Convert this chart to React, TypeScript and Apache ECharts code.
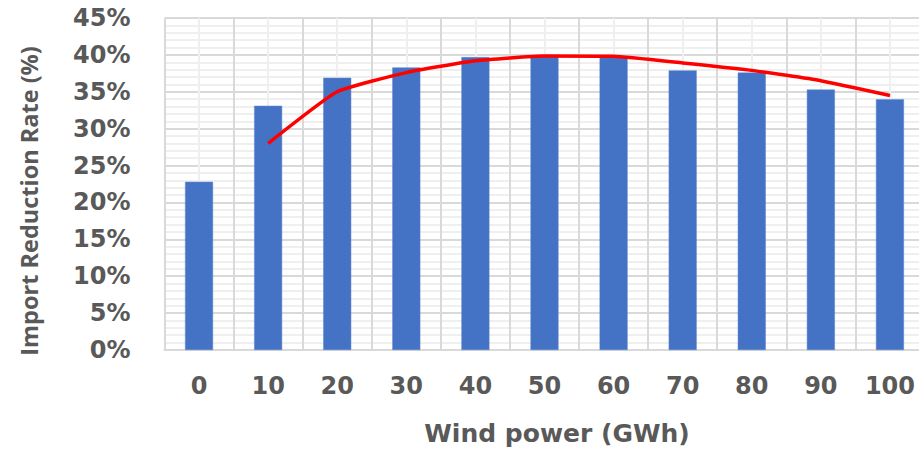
import React, { useEffect, useRef } from "react";
import * as echarts from "echarts";

const categories = ["0", "10", "20", "30", "40", "50", "60", "70", "80", "90", "100"];
const barValues = [22.8, 33.1, 36.9, 38.3, 39.7, 39.8, 39.8, 37.9, 37.6, 35.3, 34.0];
const lineValues = [null, 28.0, 35.0, 37.6, 39.2, 39.85, 39.8, 38.9, 37.9, 36.5, 34.5];
const yTitle = "Import Reduction Rate (%)";
const xTitle = "Wind power (GWh)";

const TEXT = "#595959";

export default function App() {
  const ref = useRef<HTMLDivElement>(null);
  useEffect(() => {
    if (!ref.current) return;
    const chart = echarts.init(ref.current, undefined, { renderer: "svg" });
    chart.setOption({
      animation: false,
      grid: { left: 164.5, top: 18, bottom: 100, width: 760, containLabel: false, outerBoundsMode: "none" },
      xAxis: [
        {
          type: "category",
          data: categories,
          z: 1,
          axisLine: { show: true, lineStyle: { color: "#D9D9D9", width: 2 } },
          axisTick: { show: false },
          axisLabel: {
            color: TEXT,
            fontFamily: "DejaVu Sans",
            fontWeight: "bold",
            fontSize: 24,
            margin: 24,
          },
          splitLine: { show: true, lineStyle: { color: "#D9D9D9", width: 2 } },
        },
        {
          type: "value",
          min: 0,
          max: 22,
          interval: 1,
          show: true,
          z: 0,
          axisLine: { show: false },
          axisTick: { show: false },
          axisLabel: { show: false },
          splitLine: { show: true, lineStyle: { color: "#EFEFEF", width: 2 } },
        },
      ],
      yAxis: {
        type: "value",
        min: 0,
        max: 45,
        interval: 5,
        axisLine: { show: false },
        axisTick: { show: false },
        axisLabel: {
          formatter: "{value}%",
          color: TEXT,
          fontFamily: "DejaVu Sans",
          fontWeight: "bold",
          fontSize: 24,
          margin: 34,
        },
        splitLine: { show: true, lineStyle: { color: "#D9D9D9", width: 2 } },
        minorTick: { show: false, splitNumber: 5 },
        minorSplitLine: { show: true, lineStyle: { color: "#EFEFEF", width: 2 } },
      },
      series: [
        {
          type: "bar",
          data: barValues,
          xAxisIndex: 0,
          barWidth: 28,
          itemStyle: { color: "#4472C4", borderColor: "#5A85D0", borderWidth: 0.5 },
        },
        {
          type: "line",
          data: lineValues,
          xAxisIndex: 0,
          smooth: 0.15,
          symbol: "none",
          connectNulls: false,
          lineStyle: { color: "#FF0000", width: 3.5 },
          z: 3,
        },
      ],
      graphic: [
        {
          type: "text",
          x: 29,
          y: 201,
          rotation: Math.PI / 2,
          style: {
            text: yTitle,
            fill: TEXT,
            font: "bold 23.5px 'Open Sans'",
            align: "center",
            verticalAlign: "middle",
          },
        },
        {
          type: "text",
          x: 557,
          y: 433,
          style: {
            text: xTitle,
            fill: TEXT,
            font: "bold 25px 'DejaVu Sans'",
            align: "center",
            verticalAlign: "middle",
          },
        },
      ],
    });
    return () => chart.dispose();
  }, []);
  return (
    <div
      ref={ref}
      style={{ position: "fixed", left: 0, top: 0, width: 919, height: 450, background: "#fff", overflow: "hidden" }}
    />
  );
}
